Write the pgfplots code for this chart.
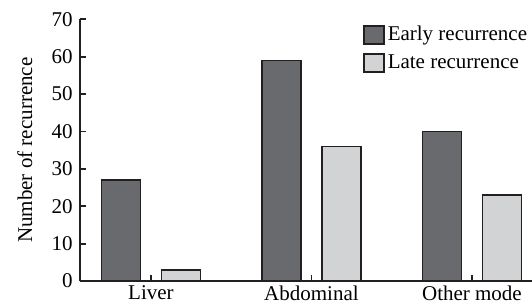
\documentclass[border=0pt]{standalone}
\usepackage{fontspec}
\setmainfont{Liberation Serif}
\usepackage{pgfplots}
\pgfplotsset{compat=1.18}
\definecolor{darkbar}{RGB}{105,106,110}
\definecolor{lightbar}{RGB}{210,211,213}
\definecolor{edge}{RGB}{35,31,32}
\begin{document}
\fontsize{10.5}{12.6}\selectfont
\begin{tikzpicture}
\begin{axis}[
  at={(0,0)}, anchor=south west,
  scale only axis, width=226pt, height=130.85pt,
  xmin=-0.442, xmax=2.374, ymin=0, ymax=70,
  axis lines=left,
  axis line style={-, line width=0.9pt, color=edge},
  tick align=inside, major tick length=3pt,
  tick style={line width=0.9pt, color=edge},
  xtick={0,1,2}, xticklabels={Liver,Abdominal,Other mode},
  ytick={0,10,...,70},
  /pgf/number format/assume math mode=true,
  xticklabel style={inner sep=2.2pt},
  ylabel={Number of recurrence},
  ylabel style={at={(axis description cs:-0.122,0.5)}, anchor=center},
  legend cell align=left,
  legend image code/.code={\draw[#1] (0pt,-4.5pt) rectangle (10pt,4.5pt);},
  legend style={at={(rel axis cs:0.626,0.985)}, anchor=north west, draw=none, fill=none,
    inner sep=0pt, outer sep=0pt, row sep=2.5pt,
    nodes={inner sep=1.5pt, anchor=west}},
]
\addplot[ybar, bar width=19.5pt, bar shift=-15pt, fill=darkbar, draw=edge, line width=0.9pt]
  coordinates {(0,27) (1,59) (2,40)};
\addlegendentry{Early recurrence}
\addplot[ybar, bar width=19.5pt, bar shift=15pt, fill=lightbar, draw=edge, line width=0.9pt]
  coordinates {(0,3) (1,36) (2,23)};
\addlegendentry{Late recurrence}
\end{axis}
\pgfresetboundingbox
\path (-40pt,-11.5pt) rectangle (226pt,140.5pt);
\end{tikzpicture}
\end{document}
